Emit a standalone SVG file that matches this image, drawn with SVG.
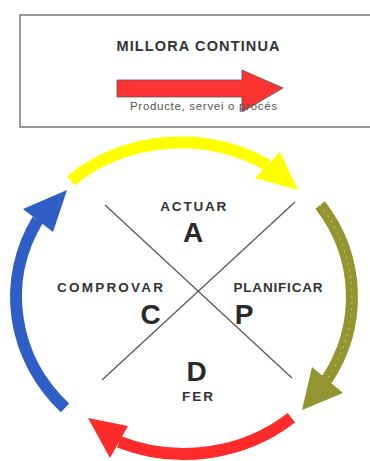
<svg xmlns="http://www.w3.org/2000/svg" width="370" height="461" viewBox="0 0 370 461">
<style>
.lbl{font-family:"Liberation Sans",Arial,sans-serif;font-weight:bold;fill:#333;text-anchor:middle}
.big{font-family:"Liberation Sans",Arial,sans-serif;font-weight:bold;fill:#2a2a2a;text-anchor:middle;font-size:28px}
.arc{fill:none;stroke-width:12;stroke-linecap:butt}
.cross{stroke:#555;stroke-width:1.2}
</style>
<rect width="370" height="461" fill="#fff"/>
<g id="header">
  <rect x="20" y="15" width="360" height="112" fill="#fff" stroke="#777" stroke-width="1.5"/>
  <text class="lbl" x="198" y="50.5" font-size="14.5" textLength="163" lengthAdjust="spacing">MILLORA CONTINUA</text>
  <polygon points="117,80 242,80 242,70 283,88 242,112 242,97 117,97" fill="#ff3333" stroke="#555" stroke-width="0.8"/>
  <text x="203.5" y="110" font-family="Liberation Sans, Arial, sans-serif" font-size="11.5" fill="#555" text-anchor="middle" textLength="147" lengthAdjust="spacing">Producte, servei o procés</text>
</g>
<g id="connectors">
  <g id="arrow-yellow">
    <path class="arc" stroke="#ffff00" d="M70.9,180.8 A168,157 0 0,1 267.5,165"/>
    <polygon points="280,152 255,178 298,190" fill="#ffff00"/>
  </g>
  <g id="arrow-green">
    <path class="arc" stroke="#949430" d="M320.1,205 A168,157 0 0,1 326.6,379.9"/>
    <path fill="none" stroke="#a6e04e" stroke-width="1.2" stroke-dasharray="1.5 5" d="M320.1,205 A168,157 0 0,1 326.6,379.9"/>
    <polygon points="312,367 343,393 302,410" fill="#949430"/>
  </g>
  <g id="arrow-red">
    <path class="arc" stroke="#ff2b2b" d="M291.4,417.8 A168,157 0 0,1 119.2,441.8"/>
    <polygon points="128,426 110,458 88,418" fill="#ff2b2b"/>
  </g>
  <g id="arrow-blue">
    <path class="arc" stroke="#2e5ec6" d="M65,407.8 A168,157 0 0,1 37.7,219.9"/>
    <polygon points="23,209 53,232 67,190" fill="#2e5ec6"/>
  </g>
  <line class="cross" x1="105" y1="205" x2="292" y2="378"/>
  <line class="cross" x1="295" y1="202" x2="102" y2="380"/>
</g>
<g id="node-actuar">
  <text class="lbl" x="193.3" y="210.5" font-size="13.5" textLength="66" lengthAdjust="spacing">ACTUAR</text>
  <text class="big" x="193" y="242">A</text>
</g>
<g id="node-comprovar">
  <text class="lbl" x="110" y="292.3" font-size="13.5" textLength="106" lengthAdjust="spacing">COMPROVAR</text>
  <text class="big" x="150.5" y="323.5">C</text>
</g>
<g id="node-planificar">
  <text class="lbl" x="278" y="292.3" font-size="13.5" textLength="89" lengthAdjust="spacing">PLANIFICAR</text>
  <text class="big" x="244" y="324">P</text>
</g>
<g id="node-fer">
  <text class="big" x="196.7" y="380.5">D</text>
  <text class="lbl" x="197.5" y="401" font-size="13.5" textLength="31" lengthAdjust="spacing">FER</text>
</g>
</svg>
